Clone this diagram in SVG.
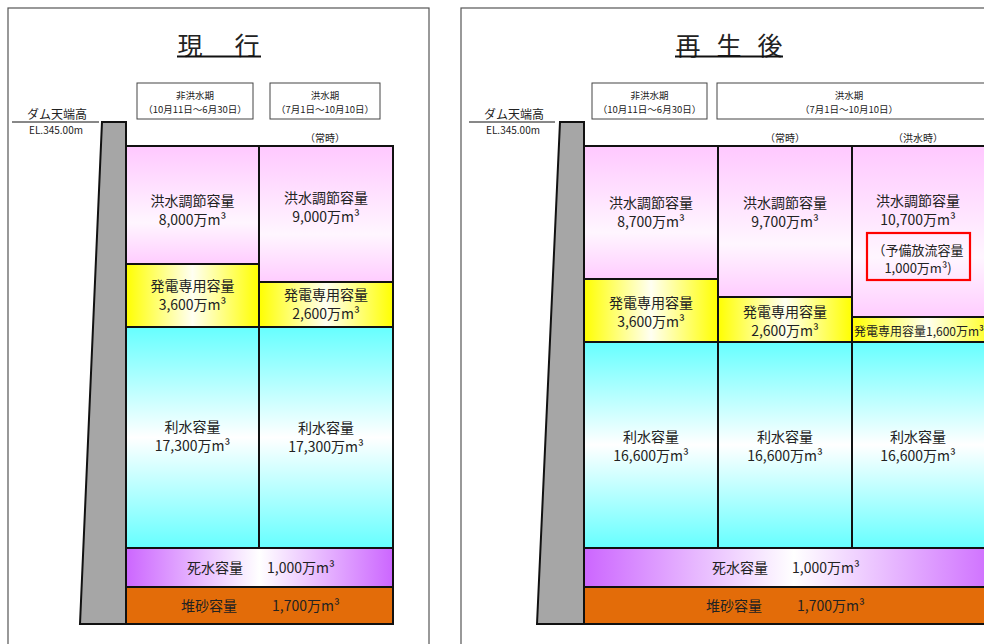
<svg xmlns="http://www.w3.org/2000/svg" width="984" height="644" viewBox="0 0 984 644">
<defs>
<linearGradient id="gPink" x1="0" y1="0" x2="0" y2="1"><stop offset="0" stop-color="#FFC8FF"/><stop offset="0.65" stop-color="#FFF6FF"/><stop offset="1" stop-color="#FFCCFF"/></linearGradient>
<linearGradient id="gYel" x1="0" y1="0" x2="1" y2="0"><stop offset="0" stop-color="#FFFF00"/><stop offset="0.5" stop-color="#FFFFF2"/><stop offset="1" stop-color="#FFFF00"/></linearGradient>
<linearGradient id="gCyan" x1="0" y1="0" x2="0" y2="1"><stop offset="0" stop-color="#66FFFF"/><stop offset="0.5" stop-color="#FFFFFF"/><stop offset="1" stop-color="#66FFFF"/></linearGradient>
<linearGradient id="gPur" x1="0" y1="0" x2="1" y2="0"><stop offset="0" stop-color="#CC66FF"/><stop offset="0.5" stop-color="#FFFFFF"/><stop offset="1" stop-color="#CC66FF"/></linearGradient>
</defs>
<style>
text{font-family:"Noto Sans CJK JP","Noto Sans",sans-serif;fill:#222;}
.frame{fill:#fff;stroke:#555;stroke-width:1.2;}
.hdr{fill:#fff;stroke:#444;stroke-width:1;}
.cell{stroke:#111;stroke-width:2;}
.dam{fill:#A6A6A6;stroke:#111;stroke-width:2;}
.t15{font-size:14px;text-anchor:middle;}
.t10{font-size:10px;text-anchor:middle;}
.h10{font-size:9.5px;text-anchor:middle;}
.ttl{font-size:25px;text-anchor:middle;}
.row{font-size:14px;}
</style>
<rect width="984" height="644" fill="#fff"/>

<!-- LEFT PANEL -->
<g id="panel-current">
<rect class="frame" x="8" y="8" width="421" height="650"/>
<g id="title-current">
<text class="ttl" x="190" y="55">現</text>
<text class="ttl" x="247" y="55">行</text>
<line x1="177" y1="56.5" x2="261" y2="56.5" stroke="#111" stroke-width="1.8"/>
</g>
<g id="hdr-nonflood-L"><rect class="hdr" x="137" y="83" width="116" height="36"/>
<text class="h10" x="195" y="98.5">非洪水期</text><text class="h10" x="195" y="112.5">（10月11日～6月30日）</text></g>
<g id="hdr-flood-L"><rect class="hdr" x="270" y="83" width="110" height="36"/>
<text class="h10" x="325" y="98.5">洪水期</text><text class="h10" x="325" y="112.5">（7月1日～10月10日）</text></g>
<g id="crest-L">
<text x="57" y="119" style="font-size:12px;text-anchor:middle">ダム天端高</text>
<line x1="12" y1="122" x2="99" y2="122" stroke="#111" stroke-width="1"/>
<text x="56" y="134" style="font-size:10px;text-anchor:middle">EL.345.00m</text>
</g>
<text class="t10" x="325" y="142">（常時）</text>
<g id="dam-L"><polygon class="dam" points="102,122 126,122 126,624 80,624"/></g>
<g id="flood-L1"><rect class="cell" x="126" y="146" width="133" height="118" fill="url(#gPink)"/>
<text class="t15" x="192.5" y="206">洪水調節容量</text><text class="t15" x="192.5" y="225">8,000万m³</text></g>
<g id="flood-L2"><rect class="cell" x="259" y="146" width="134" height="136" fill="url(#gPink)"/>
<text class="t15" x="326" y="203">洪水調節容量</text><text class="t15" x="326" y="222">9,000万m³</text></g>
<g id="power-L1"><rect class="cell" x="126" y="264" width="133" height="63" fill="url(#gYel)"/>
<text class="t15" x="192.5" y="291">発電専用容量</text><text class="t15" x="192.5" y="310">3,600万m³</text></g>
<g id="power-L2"><rect class="cell" x="259" y="282" width="134" height="45" fill="url(#gYel)"/>
<text class="t15" x="326" y="300">発電専用容量</text><text class="t15" x="326" y="319">2,600万m³</text></g>
<g id="water-L1"><rect class="cell" x="126" y="327" width="133" height="221" fill="url(#gCyan)"/>
<text class="t15" x="192.5" y="432">利水容量</text><text class="t15" x="192.5" y="451">17,300万m³</text></g>
<g id="water-L2"><rect class="cell" x="259" y="327" width="134" height="221" fill="url(#gCyan)"/>
<text class="t15" x="326" y="433">利水容量</text><text class="t15" x="326" y="452">17,300万m³</text></g>
<g id="dead-L"><rect class="cell" x="126" y="548" width="267" height="39" fill="url(#gPur)"/>
<text class="row" x="187" y="573">死水容量</text><text class="row" x="267" y="573">1,000万m³</text></g>
<g id="sed-L"><rect class="cell" x="126" y="587" width="267" height="37" fill="#E36C09"/>
<text class="row" x="181" y="611">堆砂容量</text><text class="row" x="272" y="611">1,700万m³</text></g>
</g>

<!-- RIGHT PANEL -->
<g id="panel-after">
<rect class="frame" x="461" y="8" width="540" height="650"/>
<g id="title-after">
<text class="ttl" x="688" y="55">再</text>
<text class="ttl" x="729" y="55">生</text>
<text class="ttl" x="770" y="55">後</text>
<line x1="675" y1="56.5" x2="783" y2="56.5" stroke="#111" stroke-width="1.8"/>
</g>
<g id="hdr-nonflood-R"><rect class="hdr" x="592" y="83" width="115" height="36"/>
<text class="h10" x="649.5" y="98.5">非洪水期</text><text class="h10" x="649.5" y="112.5">（10月11日～6月30日）</text></g>
<g id="hdr-flood-R"><rect class="hdr" x="717" y="83" width="280" height="36"/>
<text class="h10" x="849" y="98.5">洪水期</text><text class="h10" x="849" y="112.5">（7月1日～10月10日）</text></g>
<g id="crest-R">
<text x="514" y="119" style="font-size:12px;text-anchor:middle">ダム天端高</text>
<line x1="469" y1="122" x2="555" y2="122" stroke="#111" stroke-width="1"/>
<text x="513" y="134" style="font-size:10px;text-anchor:middle">EL.345.00m</text>
</g>
<text class="t10" x="785" y="142">（常時）</text>
<text class="t10" x="918" y="142">（洪水時）</text>
<g id="dam-R"><polygon class="dam" points="560,122 584,122 584,624 537,624"/></g>
<g id="flood-R1"><rect class="cell" x="584" y="146" width="134" height="133" fill="url(#gPink)"/>
<text class="t15" x="651" y="208">洪水調節容量</text><text class="t15" x="651" y="227">8,700万m³</text></g>
<g id="flood-R2"><rect class="cell" x="718" y="146" width="134" height="151" fill="url(#gPink)"/>
<text class="t15" x="785" y="208">洪水調節容量</text><text class="t15" x="785" y="227">9,700万m³</text></g>
<g id="flood-R3"><rect class="cell" x="852" y="146" width="150" height="171" fill="url(#gPink)"/>
<text class="t15" x="918" y="206">洪水調節容量</text><text class="t15" x="918" y="225">10,700万m³</text></g>
<g id="reserve-R3"><rect x="867" y="233" width="103" height="47" fill="none" stroke="#FF0000" stroke-width="2.2"/>
<text class="t15" x="918" y="255" style="font-size:13px">（予備放流容量</text><text class="t15" x="918" y="273" style="font-size:13px">1,000万m³)</text></g>
<g id="power-R1"><rect class="cell" x="584" y="279" width="134" height="63" fill="url(#gYel)"/>
<text class="t15" x="651" y="308">発電専用容量</text><text class="t15" x="651" y="327">3,600万m³</text></g>
<g id="power-R2"><rect class="cell" x="718" y="297" width="134" height="45" fill="url(#gYel)"/>
<text class="t15" x="785" y="317">発電専用容量</text><text class="t15" x="785" y="336">2,600万m³</text></g>
<g id="power-R3"><rect class="cell" x="852" y="317" width="150" height="25" fill="url(#gYel)"/>
<text x="854" y="336" style="font-size:12px">発電専用容量1,600万m³</text></g>
<g id="water-R1"><rect class="cell" x="584" y="342" width="134" height="206" fill="url(#gCyan)"/>
<text class="t15" x="651" y="442">利水容量</text><text class="t15" x="651" y="461">16,600万m³</text></g>
<g id="water-R2"><rect class="cell" x="718" y="342" width="134" height="206" fill="url(#gCyan)"/>
<text class="t15" x="785" y="442">利水容量</text><text class="t15" x="785" y="461">16,600万m³</text></g>
<g id="water-R3"><rect class="cell" x="852" y="342" width="150" height="206" fill="url(#gCyan)"/>
<text class="t15" x="918" y="442">利水容量</text><text class="t15" x="918" y="461">16,600万m³</text></g>
<g id="dead-R"><rect class="cell" x="584" y="548" width="420" height="39" fill="url(#gPur)"/>
<text class="row" x="712" y="573">死水容量</text><text class="row" x="792" y="573">1,000万m³</text></g>
<g id="sed-R"><rect class="cell" x="584" y="587" width="420" height="37" fill="#E36C09"/>
<text class="row" x="706" y="611">堆砂容量</text><text class="row" x="797" y="611">1,700万m³</text></g>
</g>
<g id="connectors"></g>
</svg>
